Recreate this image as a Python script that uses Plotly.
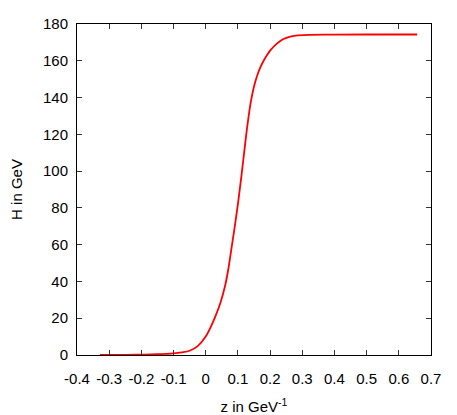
import plotly.graph_objects as go

# Data
z_vals = [-0.329, -0.25, -0.2, -0.15, -0.1, -0.075, -0.05, -0.025, 0.0, 0.015,
          0.03, 0.045, 0.06, 0.07, 0.08, 0.09, 0.1, 0.11, 0.12, 0.13,
          0.14, 0.15, 0.16, 0.17, 0.18, 0.19, 0.2, 0.22, 0.24, 0.26,
          0.28, 0.32, 0.4, 0.5, 0.657]
h_vals = [0.1, 0.1, 0.2, 0.4, 0.9, 1.4, 2.3, 4.8, 10.0, 15.0,
          21.0, 28.0, 37.5, 46.5, 58.0, 69.5, 82.0, 96.0, 111.0, 125.5,
          137.5, 146.0, 152.0, 156.5, 160.0, 163.0, 165.5, 169.2, 171.7, 173.0,
          173.7, 174.1, 174.2, 174.3, 174.3]

x_tick_vals = [-0.4, -0.3, -0.2, -0.1, 0, 0.1, 0.2, 0.3, 0.4, 0.5, 0.6, 0.7]
x_tick_text = ["-0.4", "-0.3", "-0.2", "-0.1", "0", "0.1", "0.2", "0.3", "0.4", "0.5", "0.6", "0.7"]
y_tick_vals = [0, 20, 40, 60, 80, 100, 120, 140, 160, 180]
y_tick_text = [str(v) for v in y_tick_vals]

fig = go.Figure()
fig.add_trace(go.Scatter(x=z_vals, y=h_vals, mode="lines",
                         line=dict(color="#ff0000", width=1.8, shape="spline", smoothing=1.0),
                         showlegend=False))

font = dict(family="Liberation Sans, Arial, sans-serif", size=15, color="black")
axis_common = dict(showline=True, linecolor="black", linewidth=1, mirror="ticks",
                   ticks="inside", ticklen=5, tickcolor="#333333", showgrid=False,
                   zeroline=False, tickfont=font, automargin=False)

fig.update_layout(
    width=457, height=415,
    margin=dict(l=77, r=26, t=24, b=60),
    paper_bgcolor="white", plot_bgcolor="white",
    font=font,
    xaxis=dict(range=[-0.4, 0.7], tickvals=x_tick_vals, ticktext=x_tick_text,
               ticklabelstandoff=10,
               title=dict(text="z in GeV<sup>-1</sup>", font=font, standoff=18),
               **axis_common),
    yaxis=dict(range=[0, 180], tickvals=y_tick_vals, ticktext=y_tick_text,
               ticklabelstandoff=5,
               title=dict(text="H in GeV", font=font, standoff=16),
               **axis_common),
)

fig.write_html("out.html",
               config={"displayModeBar": False},
               post_script="document.body.style.margin='0';document.body.style.overflow='hidden';")
